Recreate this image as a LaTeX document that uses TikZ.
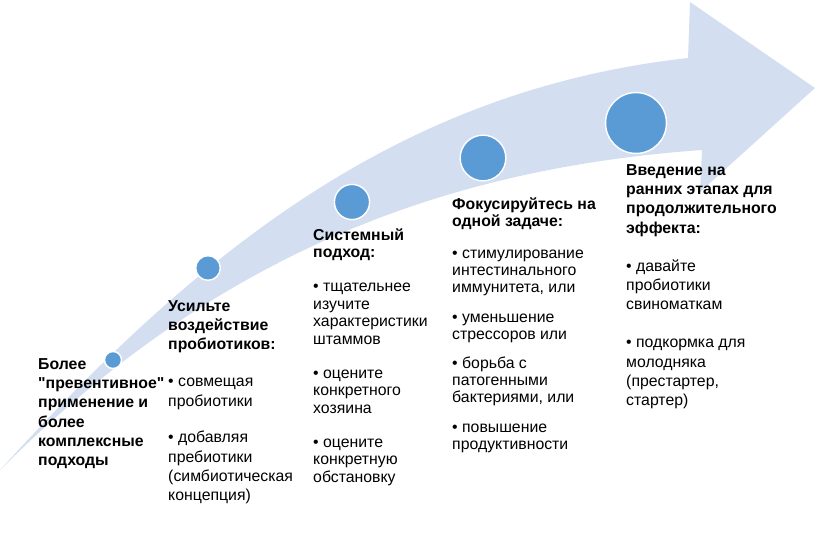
\documentclass[tikz,border=0pt]{standalone}
\usepackage{fontspec}
\setmainfont{Liberation Sans}[Ligatures=TeXOff]
\definecolor{arrowfill}{HTML}{D3DFF0}
\definecolor{dotblue}{HTML}{5B9BD5}
\tikzset{
  stage/.style={anchor=north west, align=left, inner sep=0pt,
    font=\fontsize{13.5}{#1}\selectfont},
  stage/.default=16.5,
  dot/.style={circle, fill=dotblue, draw=white, line width=1.2pt, inner sep=0pt}
}
\begin{document}
\begin{tikzpicture}[x=0.03cm, y=-0.03cm]
\useasboundingbox (0,0) rectangle (820,553);

% big curved arrow
\fill[arrowfill] (0,470) .. controls (200,250) and (400,90) .. (688,58)
  -- (690,2) -- (815,88) -- (700,192) -- (702,150)
  .. controls (420,170) and (200,270) .. (0,470) -- cycle;

% dots
\node[dot, minimum size=14.5pt] (d1) at (113,360) {};
\node[dot, minimum size=21pt] (d2) at (208,268) {};
\node[dot, minimum size=30pt] (d3) at (352,202) {};
\node[dot, minimum size=39pt] (d4) at (483,158) {};
\node[dot, minimum size=52pt] (d5) at (636,123) {};

% texts
\node[stage] (t1) at (38,358) {\bfseries Более\\\bfseries "превентивное"\\\bfseries применение и\\\bfseries более\\\bfseries комплексные\\\bfseries подходы};
\node[stage] (t2) at (168,300) {\bfseries Усильте\\\bfseries воздействие\\\bfseries пробиотиков:\\[15pt]
  • совмещая\\пробиотики\\[15pt]
  • добавляя\\пребиотики\\(симбиотическая\\концепция)};
\node[stage=15] (t3) at (313,228) {\bfseries Системный\\\bfseries подход:\\[14pt]
  • тщательнее\\изучите\\характеристики\\штаммов\\[14pt]
  • оцените\\конкретного\\хозяина\\[14pt]
  • оцените\\конкретную\\обстановку};
\node[stage=14.5] (t4) at (452,197) {\bfseries Фокусируйтесь на\\\bfseries одной задаче:\\[13pt]
  • стимулирование\\интестинального\\иммунитета, или\\[11pt]
  • уменьшение\\стрессоров или\\[11pt]
  • борьба с\\патогенными\\бактериями, или\\[11pt]
  • повышение\\продуктивности};
\node[stage] (t5) at (626,164) {\bfseries Введение на\\\bfseries ранних этапах для\\\bfseries продолжительного\\\bfseries эффекта:\\[16pt]
  • давайте\\пробиотики\\свиноматкам\\[16pt]
  • подкормка для\\молодняка\\(престартер,\\стартер)};
\end{tikzpicture}
\end{document}
